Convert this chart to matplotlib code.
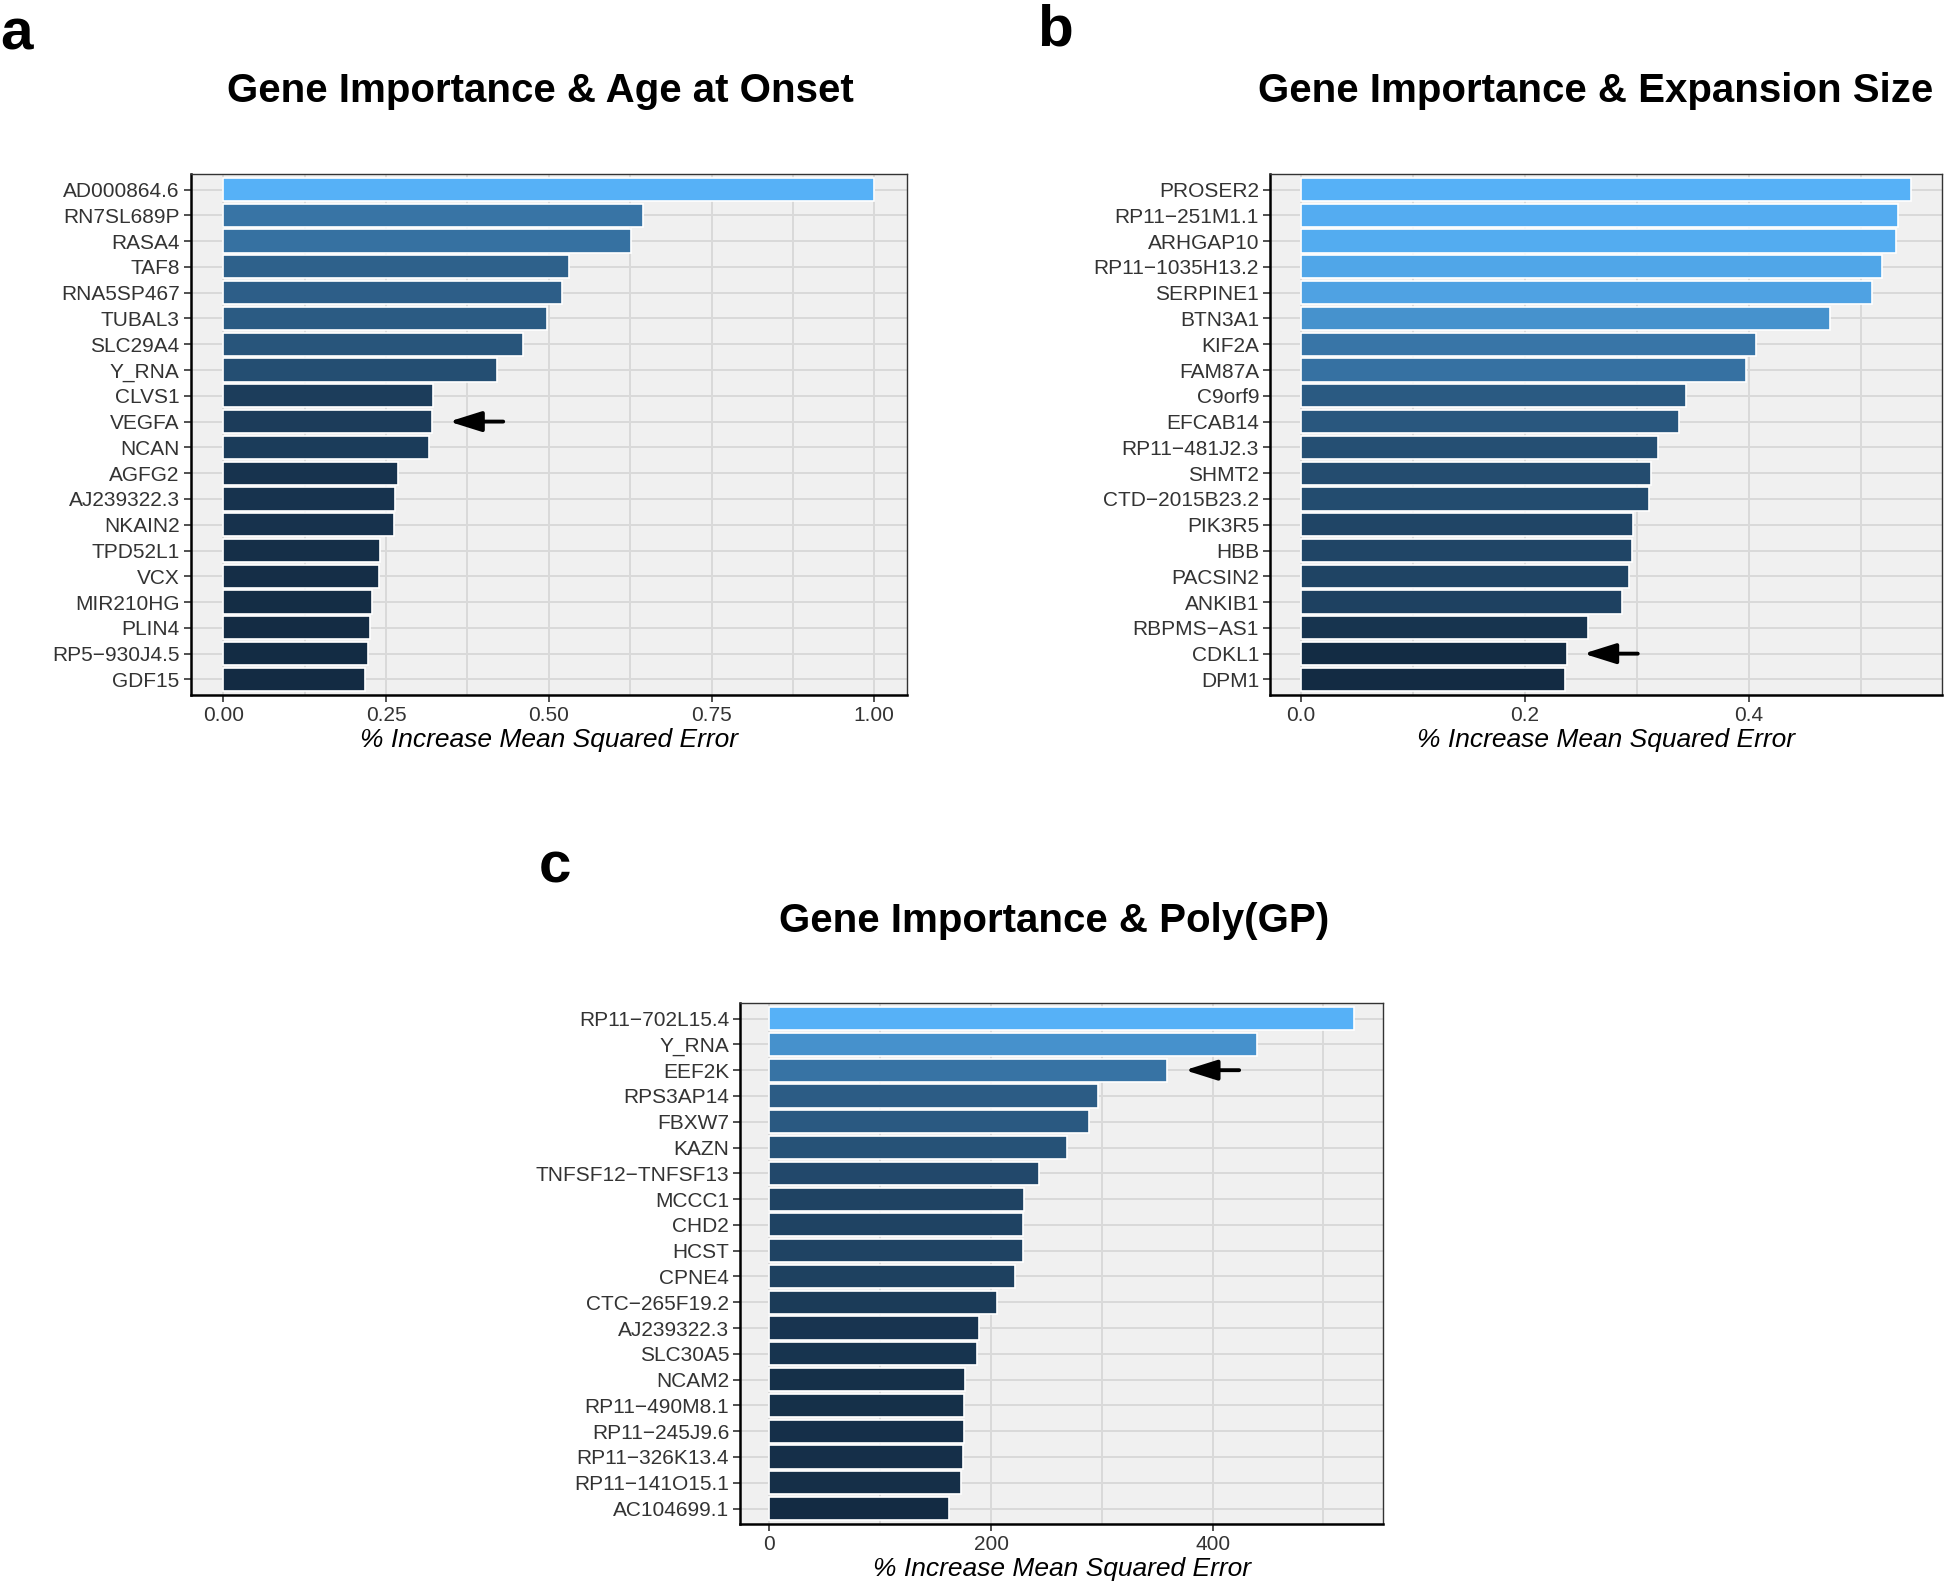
import matplotlib
matplotlib.use("Agg")
import matplotlib.pyplot as plt
import numpy as np
from matplotlib.colors import LinearSegmentedColormap, Normalize

plt.rcParams['font.family'] = ['Liberation Sans', 'DejaVu Sans']

# ---- data ----
genes_a = ["AD000864.6", "RN7SL689P", "RASA4", "TAF8", "RNA5SP467", "TUBAL3",
           "SLC29A4", "Y_RNA", "CLVS1", "VEGFA", "NCAN", "AGFG2", "AJ239322.3",
           "NKAIN2", "TPD52L1", "VCX", "MIR210HG", "PLIN4", "RP5\u2212930J4.5", "GDF15"]
vals_a = [1.000, 0.645, 0.627, 0.531, 0.520, 0.497, 0.460, 0.420, 0.322, 0.321,
          0.316, 0.269, 0.264, 0.262, 0.241, 0.239, 0.228, 0.225, 0.223, 0.218]

genes_b = ["PROSER2", "RP11\u2212251M1.1", "ARHGAP10", "RP11\u22121035H13.2", "SERPINE1",
           "BTN3A1", "KIF2A", "FAM87A", "C9orf9", "EFCAB14", "RP11\u2212481J2.3", "SHMT2",
           "CTD\u22122015B23.2", "PIK3R5", "HBB", "PACSIN2", "ANKIB1", "RBPMS\u2212AS1",
           "CDKL1", "DPM1"]
vals_b = [0.545, 0.533, 0.532, 0.519, 0.510, 0.473, 0.407, 0.398, 0.344, 0.338,
          0.319, 0.313, 0.311, 0.297, 0.296, 0.293, 0.287, 0.257, 0.238, 0.236]

genes_c = ["RP11\u2212702L15.4", "Y_RNA", "EEF2K", "RPS3AP14", "FBXW7", "KAZN",
           "TNFSF12\u2212TNFSF13", "MCCC1", "CHD2", "HCST", "CPNE4", "CTC\u2212265F19.2",
           "AJ239322.3", "SLC30A5", "NCAM2", "RP11\u2212490M8.1", "RP11\u2212245J9.6",
           "RP11\u2212326K13.4", "RP11\u2212141O15.1", "AC104699.1"]
vals_c = [527.5, 440.5, 359, 297, 288, 269, 243, 229.5, 229.2, 228.5,
          222, 205.5, 189.5, 187.5, 176.5, 175.5, 175.3, 174.5, 172.5, 162.5]

ticks_a = [0, 0.25, 0.5, 0.75, 1.0]
ticklabels_a = ["0.00", "0.25", "0.50", "0.75", "1.00"]
ticks_b = [0, 0.2, 0.4]
ticklabels_b = ["0.0", "0.2", "0.4"]
ticks_c = [0, 200, 400]
ticklabels_c = ["0", "200", "400"]

# arrows: (row gene, head x, tail x)
arrow_a = ("VEGFA", 0.347, 0.43)
arrow_b = ("CDKL1", 0.2526, 0.301)
arrow_c = ("EEF2K", 375, 424)

cmap = LinearSegmentedColormap.from_list("gg", ["#132B43", "#56B1F7"])


def panel(ax, genes, vals, ticks, ticklabels, arrow):
    vals = np.array(vals)
    norm = Normalize(vals.min(), vals.max())
    y = np.arange(len(genes))
    ax.set_facecolor("#F0F0F0")
    ax.barh(y, vals, height=0.9, color=cmap(norm(vals)), edgecolor="white",
            linewidth=1.2, zorder=3)
    rng = vals.max()
    ax.set_xlim(-0.05 * rng, 1.05 * rng)
    ax.set_ylim(len(genes) - 0.4, -0.6)
    ax.set_yticks(y)
    ax.set_yticklabels(genes)
    ax.set_xticks(ticks)
    ax.set_xticklabels(ticklabels)
    step = ticks[1] - ticks[0]
    minor = np.arange(step / 2, 1.05 * rng, step)
    ax.set_xticks(minor, minor=True)
    ax.tick_params(which="minor", length=0)
    ax.tick_params(which="major", labelsize=15, colors="#333333", length=5,
                   width=1.2, pad=3)
    ax.grid(which="both", axis="x", color="#D9D9D9", lw=1.4, zorder=0)
    ax.grid(which="major", axis="y", color="#D9D9D9", lw=1.4, zorder=0)
    ax.set_axisbelow(True)
    for s in ["left", "bottom"]:
        ax.spines[s].set_color("black")
        ax.spines[s].set_linewidth(1.8)
    for s in ["top", "right"]:
        ax.spines[s].set_color("#333333")
        ax.spines[s].set_linewidth(1.0)
    ax.set_xlabel("% Increase Mean Squared Error", fontsize=19, style="italic",
                  labelpad=2)
    row = genes.index(arrow[0])
    ax.annotate("", xy=(arrow[1], row), xytext=(arrow[2], row), zorder=5,
                arrowprops=dict(arrowstyle="-|>,head_length=0.7,head_width=0.22",
                                lw=2.8, color="black", mutation_scale=28,
                                shrinkA=0, shrinkB=0))


fig = plt.figure(figsize=(19.46, 15.88), dpi=100)
ax_a = fig.add_axes([0.098, 0.5624, 0.368, 0.328])
ax_b = fig.add_axes([0.6527, 0.5624, 0.345, 0.328])
ax_c = fig.add_axes([0.3804, 0.0403, 0.3303, 0.328])

panel(ax_a, genes_a, vals_a, ticks_a, ticklabels_a, arrow_a)
panel(ax_b, genes_b, vals_b, ticks_b, ticklabels_b, arrow_b)
panel(ax_c, genes_c, vals_c, ticks_c, ticklabels_c, arrow_c)

fig.text(0.2775, 0.943, "Gene Importance & Age at Onset", ha="center", va="center",
         fontsize=29, fontweight="bold")
fig.text(0.820, 0.943, "Gene Importance & Expansion Size", ha="center", va="center",
         fontsize=29, fontweight="bold")
fig.text(0.5417, 0.420, "Gene Importance & Poly(GP)", ha="center", va="center",
         fontsize=29, fontweight="bold")

fig.text(0.0, 0.978, "a", ha="left", va="center", fontsize=42, fontweight="bold")
fig.text(0.533, 0.981, "b", ha="left", va="center", fontsize=42, fontweight="bold")
fig.text(0.277, 0.454, "c", ha="left", va="center", fontsize=42, fontweight="bold")

fig.savefig("out.png", dpi=100)
